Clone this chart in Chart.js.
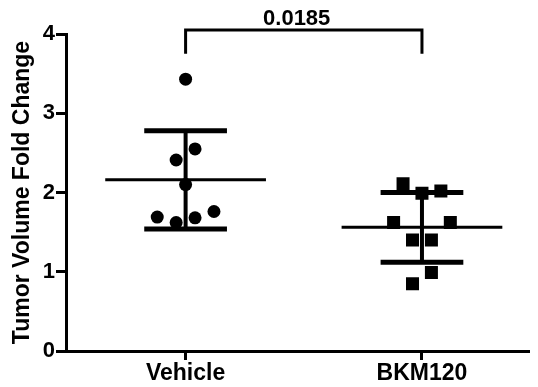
<!DOCTYPE html>
<html>
<head>
  <title>Tumor Volume Fold Change</title>
  <script src="https://cdn.jsdelivr.net/npm/chart.js"></script>
  <style>
    html, body { margin: 0; background: #fff; overflow: hidden; }
    .chart-container { width: 538px; height: 387px; position: relative; }
  </style>
</head>
<body>
  <div class="chart-container">
    <canvas id="foldChart"></canvas>
  </div>

  <script>
    const categories = ['Vehicle', 'BKM120'];
    const yTicks = [0, 1, 2, 3, 4];

    const vehicleValues = [3.43, 2.55, 2.41, 2.10, 1.69, 1.62, 1.68, 1.76];
    const vehicleJitter = [0, 0.04, -0.04, 0, -0.12, -0.04, 0.04, 0.12];
    const bkmValues = [2.11, 1.99, 2.02, 1.62, 1.62, 1.40, 1.40, 0.99, 0.85];
    const bkmJitter = [-0.08, 0, 0.08, -0.12, 0.12, -0.04, 0.04, 0.04, -0.04];

    const means = [2.16, 1.56];
    const sds = [0.62, 0.44];
    const pValue = '0.0185';

    const FONT = '"Liberation Sans", Arial, sans-serif';
    const meanHalf = 0.34;
    const capHalf = 0.175;

    function pts(values, jitter, group) {
      return values.map((v, i) => ({ x: group + jitter[i], y: v }));
    }

    function seg(x1, y1, x2, y2) {
      return [{ x: x1, y: y1 }, { x: x2, y: y2 }];
    }

    function lineSet(data, width) {
      return {
        type: 'line',
        data: data,
        borderColor: '#000',
        borderWidth: width,
        pointRadius: 0,
        showLine: true,
        fill: false,
        clip: false,
        borderCapStyle: 'butt',
      };
    }

    const datasets = [];
    means.forEach((m, g) => {
      datasets.push(lineSet(seg(g - meanHalf, m, g + meanHalf, m), 3));
      datasets.push(lineSet(seg(g, m - sds[g], g, m + sds[g]), 4));
      datasets.push(lineSet(seg(g - capHalf, m + sds[g], g + capHalf, m + sds[g]), 5));
      datasets.push(lineSet(seg(g - capHalf, m - sds[g], g + capHalf, m - sds[g]), 5));
    });

    // significance bracket
    datasets.push(lineSet([{ x: 0, y: 3.75 }, { x: 0, y: 4.05 }, { x: 1, y: 4.05 }, { x: 1, y: 3.75 }], 3));

    datasets.push({
      type: 'scatter',
      data: pts(vehicleValues, vehicleJitter, 0),
      pointStyle: 'circle',
      pointRadius: 6.5,
      backgroundColor: '#000',
      borderWidth: 0,
    });
    datasets.push({
      type: 'scatter',
      data: pts(bkmValues, bkmJitter, 1),
      pointStyle: 'rect',
      pointRadius: 9.2,
      backgroundColor: '#000',
      borderWidth: 0,
    });

    const pLabel = {
      id: 'pLabel',
      afterDatasetsDraw(chart) {
        const { ctx, scales } = chart;
        ctx.save();
        ctx.font = 'bold 22px ' + FONT;
        ctx.fillStyle = '#000';
        ctx.textAlign = 'center';
        ctx.textBaseline = 'middle';
        ctx.fillText(pValue, scales.x.getPixelForValue(0.47), scales.y.getPixelForValue(4.19));
        ctx.restore();
      }
    };

    const ctx = document.getElementById('foldChart').getContext('2d');
    new Chart(ctx, {
      type: 'scatter',
      data: { datasets: datasets },
      plugins: [pLabel],
      options: {
        responsive: true,
        maintainAspectRatio: false,
        animation: false,
        layout: { padding: { top: 34, right: 0, left: 0, bottom: 0 } },
        plugins: { legend: { display: false }, tooltip: { enabled: false } },
        scales: {
          x: {
            type: 'linear',
            min: -0.506,
            max: 1.452,
            afterBuildTicks: (s) => { s.ticks = categories.map((_, i) => ({ value: i })); },
            afterFit: (s) => { s.height = 36; },
            ticks: {
              callback: (v) => categories[v],
              color: '#000',
              font: { family: FONT, size: 23, weight: 'bold' },
              padding: 0,
              maxRotation: 0,
            },
            grid: { drawOnChartArea: false, drawTicks: true, tickLength: 9, lineWidth: 3, color: '#000' },
            border: { color: '#000', width: 3 },
          },
          y: {
            min: 0,
            max: 4,
            afterBuildTicks: (s) => { s.ticks = yTicks.map((v) => ({ value: v })); },
            afterFit: (s) => { s.width = 66; },
            ticks: {
              color: '#000',
              font: { family: FONT, size: 22, weight: 'bold' },
              padding: 1,
            },
            grid: { drawOnChartArea: false, drawTicks: true, tickLength: 10, lineWidth: 3, color: '#000' },
            border: { color: '#000', width: 3 },
            title: {
              display: true,
              text: 'Tumor Volume Fold Change',
              color: '#000',
              font: { family: FONT, size: 23, weight: 'bold' },
              padding: { top: 9, bottom: 0 },
            },
          },
        },
      },
    });
  </script>
</body>
</html>
